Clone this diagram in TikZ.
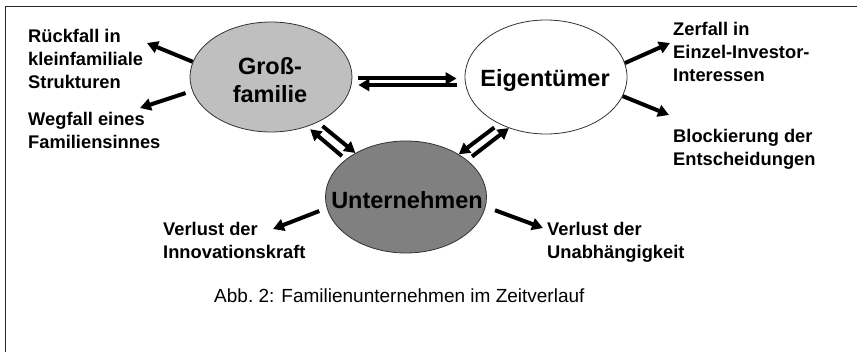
\documentclass[tikz,border=0pt]{standalone}
\usepackage{fontspec}
\setmainfont{Liberation Sans}
\usetikzlibrary{shapes.geometric}
\usetikzlibrary{arrows.meta}
\tikzset{
  ell/.style={ellipse, draw=black!80, line width=0.8pt, inner sep=0},
  rund/.style={font=\bfseries\fontsize{23.5}{28}\selectfont, align=center, inner sep=0},
  folge/.style={font=\bfseries\fontsize{18.3}{23}\selectfont, align=left, anchor=base west, inner sep=0},
  pfeil/.style={line width=4pt, ->}
}

\begin{document}
\begin{tikzpicture}[x=1pt, y=-1pt, >={Triangle[length=11pt,width=12pt]}]
\useasboundingbox (0,0) rectangle (857,352);
\draw[black!85, line width=1.5pt] (857,6.5) -- (5.5,6.5) -- (5.5,352);

% die drei Kreise
\node[ell, fill=black!25, minimum width=162pt, minimum height=110pt] (gross) at (271,77) {};
\node[rund] (gross-t) at (270,80) {Groß-\\familie};
\node[ell, fill=white, minimum width=162pt, minimum height=114pt] (eigen) at (546,77) {};
\node[rund] (eigen-t) at (545,80) {Eigentümer};
\node[ell, fill=black!50, minimum width=161pt, minimum height=112pt] (untern) at (406,197) {};
\node[rund] (untern-t) at (407,200) {Unternehmen};

% Folgen (Grundlinie der letzten Zeile)
\node[folge] (rueck) at (28,88.3) {Rückfall in\\kleinfamiliale\\Strukturen};
\node[folge] (weg) at (28,149) {Wegfall eines\\Familiensinnes};
\node[folge] (zerf) at (673,82) {Zerfall in\\Einzel-Investor-\\Interessen};
\node[folge] (block) at (673,165.7) {Blockierung der\\Entscheidungen};
\node[folge] (innov) at (163,258.3) {Verlust der\\Innovationskraft};
\node[folge] (unab) at (547,258.3) {Verlust der\\Unabhängigkeit};
\node[font=\fontsize{19}{22}\selectfont, anchor=base west, inner sep=0] (abb) at (214,302.7) {Abb.~2: Familienunternehmen im Zeitverlauf};

\coordinate (rueck-p) at (147,43);
\coordinate (weg-p) at (140,108);
\coordinate (zerf-p) at (670,43);
\coordinate (block-p) at (669,115);
\coordinate (innov-p) at (273,229);
\coordinate (unab-p) at (543,228);

\draw[pfeil] (gross.169) -- (rueck-p);
\draw[pfeil, shorten <=7pt] (gross.190) -- (weg-p);
\draw[pfeil] (eigen.10) -- (zerf-p);
\draw[pfeil] (eigen.-14) -- (block-p);
\draw[pfeil, shorten <=8pt] (untern.188) -- (innov-p);
\draw[pfeil, shorten <=10pt] (untern.-7) -- (unab-p);

% Wechselwirkungen
\draw[pfeil, shorten <=6pt, shorten >=8pt] ([yshift=-1.5pt]gross.east) -- ([yshift=-1.5pt]eigen.west);
\draw[pfeil, shorten <=8pt, shorten >=6pt] ([yshift=-8pt]eigen.west) -- ([yshift=-8pt]gross.east);
\draw[pfeil, shorten <=6pt] (gross.-44) -- (untern.139);
\draw[pfeil, shorten <=5pt, shorten >=4pt] (untern.148) -- (gross.-54);
\draw[pfeil, shorten <=6pt] (eigen.-135) -- (untern.39);
\draw[pfeil, shorten <=6pt] (untern.31) -- (eigen.-126);
\end{tikzpicture}
\end{document}
